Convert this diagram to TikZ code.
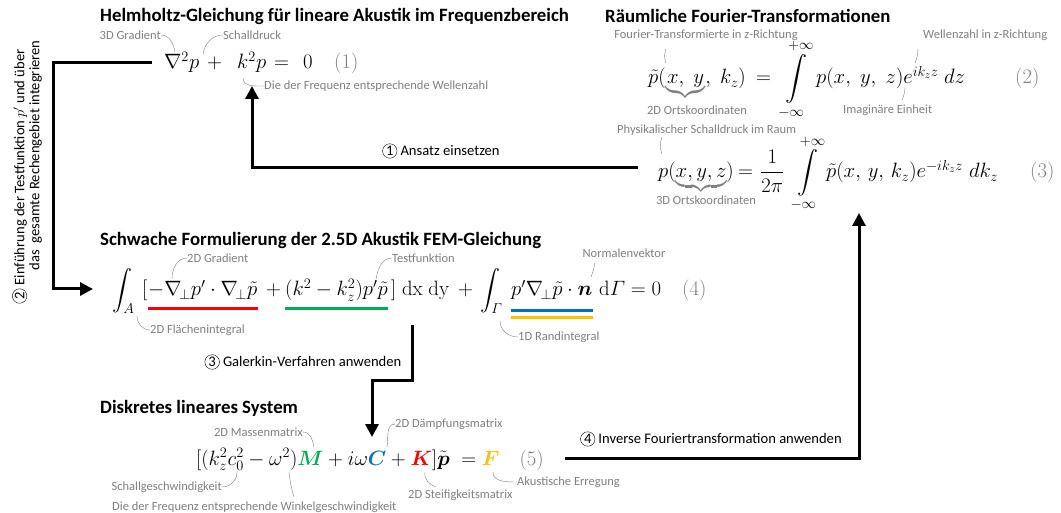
\documentclass[tikz,border=0pt]{standalone}
\usepackage{amsmath, amsfonts, amssymb}
\usepackage[no-math]{fontspec}
\setmainfont{Carlito}
\usetikzlibrary{arrows.meta}

\definecolor{grau}{RGB}{128,128,128}
\definecolor{rot}{RGB}{255,0,0}
\definecolor{gruen}{RGB}{0,176,80}
\definecolor{blau}{RGB}{0,112,192}
\definecolor{gelb}{RGB}{255,192,0}

\newcommand{\kreis}[1]{\tikz[baseline=(k.base)]\node[circle,draw,thin,inner sep=0.9pt] (k) {#1};}
\newcommand{\gnum}[1]{\textcolor{grau}{$(#1)$}}

\begin{document}
\begin{tikzpicture}[x=1pt, y=-1pt,
    every node/.style={inner sep=0pt},
    titel/.style={font=\bfseries\fontsize{18.8}{22}\selectfont, anchor=west},
    gl/.style={font=\fontsize{#1}{24}\selectfont, anchor=base west},
    anm/.style={font=\fontsize{12.5}{14}\selectfont, text=grau},
    leit/.style={grau, thin},
    schritt/.style={font=\fontsize{14.6}{15}\selectfont},
    pfeil/.style={line width=3pt, -{Triangle[length=13pt,width=13pt]}},
    strich/.style={line width=3pt}]
    \useasboundingbox (0,0) rectangle (1061,513);

    % HELMHOLTZ
    \node[titel] (t1) at (100,16) {Helmholtz-Gleichung für lineare Akustik im Frequenzbereich};
    \node[gl=22] (gl1a) at (164,69) {$\nabla^2 p$};
    \node[gl=22] (gl1b) at (207,69) {$+$};
    \node[gl=22] (gl1c) at (237,69) {$k^2 p$};
    \node[gl=22] (gl1d) at (274,69) {$=$};
    \node[gl=22] (gl1e) at (303,69) {$0$};
    \node[gl=22] (gl1f) at (334,69) {\gnum{1}};
    \node[anm, anchor=east] (a1) at (161,35) {3D Gradient};
    \node[anm, anchor=west] (a2) at (223,35) {Schalldruck};
    \node[anm, anchor=west] (a3) at (264,86) {Die der Frequenz entsprechende Wellenzahl};
    \draw[leit] (a1.east) to[out=0,in=100] (175,52);
    \draw[leit] (a2.west) to[out=180,in=80] (203,54);
    \draw[leit] (243,78) to[out=-90,in=180] (a3.west);

    % FOURIER
    \node[titel] (t2) at (605,16) {Räumliche Fourier-Transformationen};
    \node[gl=22] (gl2a) at (648,84) {$\tilde p({\color{grau}\underbrace{{\color{black}x,\;y}}},\;k_z)$};
    \node[gl=22] (gl2b) at (756,84) {$=$};
    \node[gl=22, anchor=base] (gl2c) at (796,84) {$\displaystyle\int\limits_{-\infty}^{+\infty}$};
    \node[gl=22] (gl2d) at (816,84) {$p(x,\;y,\;z)e^{ik_z z}$};
    \node[gl=22] (gl2e) at (944,84) {$dz$};
    \node[gl=22] (gl2f) at (1015,84) {\gnum{2}};
    \node[anm] (a4) at (706,35) {Fourier-Transformierte in z-Richtung};
    \node[anm, anchor=west] (a5) at (923,35) {Wellenzahl in z-Richtung};
    \node[anm] (a6) at (697,110) {2D Ortskoordinaten};
    \node[anm, anchor=west] (a7) at (843,110) {Imaginäre Einheit};
    \draw[leit] (666,49) to[bend right=20] (666,63);
    \draw[leit] (918,49) to[bend left=10] (915,63);
    \draw[leit] (905,88) to[bend left=10] (902,100);

    \node[gl=21] (gl3a) at (658,178) {$p({\color{grau}\underbrace{{\color{black}x,y,z}}})$};
    \node[gl=21] (gl3b) at (738,178) {$=$};
    \node[gl=21] (gl3c) at (760,178) {$\dfrac{1}{2\pi}$};
    \node[gl=21, anchor=base] (gl3d) at (808,178) {$\displaystyle\int\limits_{-\infty}^{+\infty}$};
    \node[gl=21] (gl3e) at (826,178) {$\tilde p(x,\,y,\,k_z)e^{-ik_z z}$};
    \node[gl=21] (gl3f) at (969,178) {$dk_z$};
    \node[gl=21] (gl3g) at (1030,178) {\gnum{3}};
    \node[anm, anchor=west] (a8) at (617,130) {Physikalischer Schalldruck im Raum};
    \node[anm] (a9) at (706,200) {3D Ortskoordinaten};
    \draw[leit] (662,137) to[bend right=20] (662,154);

    % SCHWACHE FORM
    \node[titel] (t3) at (100,240) {Schwache Formulierung der 2.5D Akustik FEM-Gleichung};
    \node[gl=20] (gl4a) at (112,296) {$\displaystyle\int_A$};
    \node[gl=20] (gl4b) at (142,296) {$[$};
    \node[gl=20] (gl4c) at (148,296) {$-\nabla_{\!\perp} p' \cdot \nabla_{\!\perp} \tilde p$};
    \node[gl=20] (gl4d) at (266,296) {$+$};
    \node[gl=20] (gl4e) at (285,296) {$(k^2 - k_z^2)p'\tilde p$};
    \node[gl=20] (gl4f) at (391,296) {$]\;\mathrm{dx}\;\mathrm{dy}$};
    \node[gl=20] (gl4g) at (458,296) {$+$};
    \node[gl=20] (gl4h) at (480,296) {$\displaystyle\int_\varGamma$};
    \node[gl=20] (gl4i) at (511,296) {$p'\nabla_{\!\perp}\tilde p\cdot\boldsymbol{n}$};
    \node[gl=20] (gl4j) at (599,296) {$\mathrm{d}\varGamma = 0$};
    \node[gl=20] (gl4k) at (682,296) {\gnum{4}};
    \node[anm, anchor=west] (a10) at (187,258) {2D Gradient};
    \node[anm, anchor=west] (a11) at (392,258) {Testfunktion};
    \node[anm, anchor=west] (a12) at (150,330) {2D Flächenintegral};
    \node[anm] (a13) at (624,253) {Normalenvektor};
    \node[anm, anchor=west] (a14) at (518,337) {1D Randintegral};
    \draw[leit] (a10.west) to[out=180,in=90] (172,279);
    \draw[leit] (a11.west) to[out=180,in=80] (376,279);
    \draw[leit] (137,316) to[out=-90,in=180] (a12.west);
    \draw[leit] (595,263) to[bend left=5] (591,277);
    \draw[leit] (500,321) to[out=-90,in=180] (a14.west);
    \draw[strich, rot] ([yshift=-13pt]gl4c.base west) -- ([yshift=-13pt]gl4c.base east);
    \draw[strich, gruen] ([yshift=-13pt]gl4e.base west) -- ([yshift=-13pt]gl4e.base east);
    \draw[strich, blau] ([yshift=-15pt]gl4i.base west) -- ([yshift=-15pt]gl4i.base east);
    \draw[strich, gelb] ([yshift=-22pt]gl4i.base west) -- ([yshift=-22pt]gl4i.base east);

    % DISKRETES SYSTEM
    \node[titel] (t4) at (100,408) {Diskretes lineares System};
    \node[gl=20] (gl5) at (196,465) {$[(k_z^2c_0^2 - \omega^2)\textcolor{gruen}{\boldsymbol{M}} + i\omega\textcolor{blau}{\boldsymbol{C}} + \textcolor{rot}{\boldsymbol{K}}]\tilde{\boldsymbol{p}} \;= \textcolor{gelb}{\boldsymbol{F}}$\quad\gnum{5}};
    \node[anm, anchor=east] (a15) at (303,432) {2D Massenmatrix};
    \node[anm, anchor=west] (a16) at (395,424) {2D Dämpfungsmatrix};
    \node[anm, anchor=east] (a17) at (222,487) {Schallgeschwindigkeit};
    \node[anm, anchor=west] (a18) at (112,507) {Die der Frequenz entsprechende Winkelgeschwindigkeit};
    \node[anm, anchor=west] (a19) at (408,495) {2D Steifigkeitsmatrix};
    \node[anm, anchor=west] (a20) at (517,482) {Akustische Erregung};
    \draw[leit] (a15.east) to[out=0,in=100] (314,447);
    \draw[leit] (a16.west) to[out=180,in=80] (387,447);
    \draw[leit] (a17.east) to[out=0,in=-90] (237,472);
    \draw[leit] (289,472) to[bend right=5] (294,497);
    \draw[leit] (425,472) to[out=-100,in=160] (436,487);
    \draw[leit] (493,472) to[out=-90,in=180] (a20.west);

    % PFEILE
    \coordinate (p1a) at (638,168);
    \coordinate (p1b) at (252,86);
    \draw[pfeil] (p1a) -| (p1b);
    \node[schritt] (s1) at (441,151) {\kreis{1} Ansatz einsetzen};

    \coordinate (p2a) at (152,63);
    \coordinate (p2b) at (93,289);
    \draw[pfeil] (p2a) -- (53,63) -- (53,289) -- (p2b);
    \node[schritt, rotate=90, align=left] (s2) at (27,172) {\kreis{2} Einführung der Testfunktion $p'$ und über\\\hspace*{33pt}das\ \ gesamte Rechengebiet integrieren};

    \coordinate (p3a) at (412,325);
    \coordinate (p3b) at (372,437);
    \draw[pfeil] (p3a) |- (372,380) -- (p3b);
    \node[schritt] (s3) at (303,362) {\kreis{3} Galerkin-Verfahren anwenden};

    \coordinate (p4a) at (565,458);
    \coordinate (p4b) at (859,213);
    \draw[pfeil] (p4a) -| (p4b);
    \node[schritt] (s4) at (711,439) {\kreis{4} Inverse Fouriertransformation anwenden};
\end{tikzpicture}
\end{document}
